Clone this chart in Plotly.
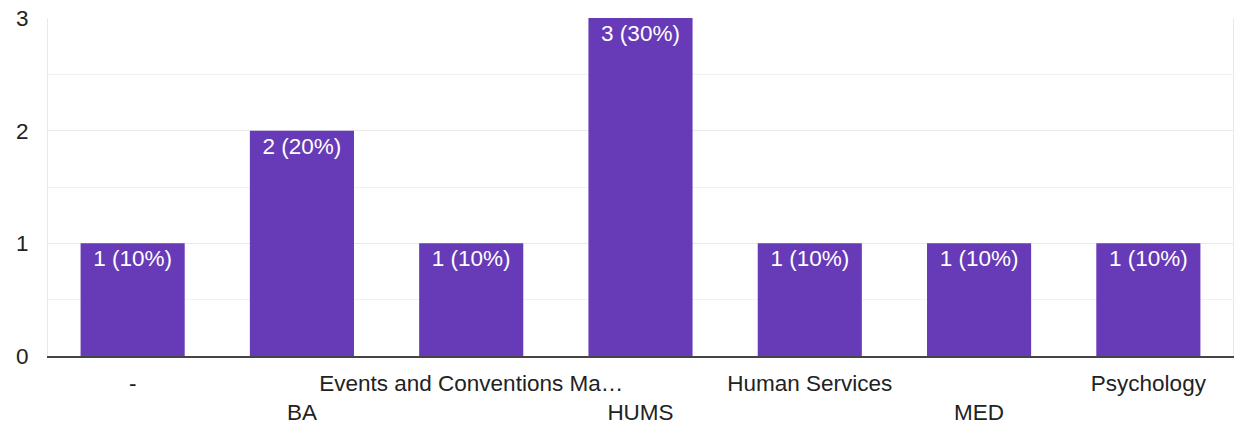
import plotly.graph_objects as go

# Responses per field of study
categories = ["-", "BA", "Events and Conventions Ma…", "HUMS",
              "Human Services", "MED", "Psychology"]
counts = [1, 2, 1, 3, 1, 1, 1]
y_ticks = [0, 1, 2, 3]

total = sum(counts)
labels = [f"{c} ({c / total:.0%})" for c in counts]

# Alternate category labels between two rows so long names don't collide
tick_text = [name if i % 2 == 0 else "<br>" + name
             for i, name in enumerate(categories)]

FONT = "Liberation Sans, Arial, sans-serif"
PURPLE = "#673ab7"
SIZE = 22.5

fig = go.Figure(
    go.Bar(
        x=categories,
        y=counts,
        text=labels,
        textposition="inside",
        insidetextanchor="end",
        textangle=0,
        textfont=dict(family=FONT, size=SIZE, color="white"),
        marker=dict(color=PURPLE, line=dict(width=0)),
        hoverinfo="skip",
    )
)

fig.update_layout(
    width=1241,
    height=427,
    margin=dict(l=48, r=8, t=18, b=71),
    paper_bgcolor="white",
    plot_bgcolor="white",
    bargap=0.385,
    showlegend=False,
    font=dict(family=FONT, size=SIZE, color="#222222"),
    uniformtext=dict(minsize=SIZE, mode="show"),
)

fig.update_xaxes(
    tickmode="array",
    tickvals=categories,
    ticktext=tick_text,
    tickangle=0,
    automargin=False,
    showgrid=False,
    showline=True,
    linecolor="#444444",
    linewidth=2,
    ticks="",
    ticklabelstandoff=6,
    tickfont=dict(family=FONT, size=SIZE, color="#222222"),
)

fig.update_yaxes(
    range=[0, 3],
    tickvals=y_ticks,
    automargin=False,
    showgrid=True,
    gridcolor="#e9e9e9",
    gridwidth=1,
    minor=dict(dtick=0.5, showgrid=True, gridcolor="#f1f1f1", gridwidth=1),
    showline=True,
    linecolor="#e9e9e9",
    linewidth=1,
    mirror=True,
    zeroline=False,
    ticks="",
    ticklabelstandoff=14,
    tickfont=dict(family=FONT, size=SIZE, color="#222222"),
)

fig.write_html("out.html")
